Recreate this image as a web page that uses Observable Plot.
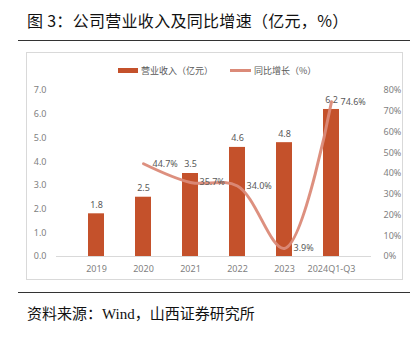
<!DOCTYPE html>
<html><head><meta charset="utf-8">
<script src="https://cdn.jsdelivr.net/npm/d3@7"></script>
<script src="https://cdn.jsdelivr.net/npm/@observablehq/plot@0.6"></script>
<style>
body{margin:0;background:#fff;width:411px;height:337px;position:relative;overflow:hidden;font-family:"Noto Sans CJK SC","Noto Sans",sans-serif;}
#title{position:absolute;left:27px;top:8px;font-size:16px;color:#111;white-space:nowrap;letter-spacing:0.3px;}
.rule{position:absolute;left:18px;width:392px;height:0;border-top:1.5px solid #333;}
#box{position:absolute;left:26px;top:52px;width:375px;height:226px;border:1px solid #d9d9d9;}
#chart{position:absolute;left:0;top:0;}
#legend{position:absolute;left:0;top:11px;width:375px;font-size:9px;color:#595959;}
.lg{position:absolute;top:0;white-space:nowrap;display:flex;align-items:center;}
#caption{position:absolute;left:27px;top:302px;font-size:15px;color:#111;white-space:nowrap;}
#caption .w{font-family:"Liberation Serif",serif;}
</style></head>
<body>
<div id="title">图 3：公司营业收入及同比增速（亿元，%）</div>
<div class="rule" style="top:40px"></div>
<div id="box"><div id="chart"></div>
<div id="legend">
<div class="lg" style="left:91px"><span style="display:inline-block;width:20px;height:5px;background:#C4512B;margin-right:3px"></span>营业收入（亿元）</div>
<div class="lg" style="left:203px"><span style="display:inline-block;width:21px;height:2.5px;background:#DB8A78;margin-right:3px"></span>同比增长（%）</div>
</div></div>
<div class="rule" style="top:292px"></div>
<div id="caption">资料来源：<span class="w">Wind</span>，山西证券研究所</div>
<script>
const categories = ["2019","2020","2021","2022","2023","2024Q1-Q3"];
const revenue = [1.8, 2.5, 3.5, 4.6, 4.8, 6.2];
const growth = [null, 44.7, 35.7, 34.0, 3.9, 74.6];
const leftTicks = [0,1,2,3,4,5,6,7];
const rightTicks = [0,10,20,30,40,50,60,70,80];

const yMax = 7, pMax = 80;
const toY = p => p * yMax / pMax;
const bars = categories.map((c,i)=>({c, v: revenue[i]}));
const line = categories.map((c,i)=>({c, g: growth[i]})).filter(d=>d.g!=null);

const plot = Plot.plot({
  width: 375, height: 226,
  marginLeft: 29, marginRight: 31, marginTop: 37, marginBottom: 23,
  style: {fontFamily: '"Noto Sans","Noto Sans CJK SC",sans-serif', fontSize: "9px", color: "#7f7f7f", background: "transparent"},
  x: {domain: categories, padding: 0.66, label: null},
  y: {domain: [0, yMax], label: null},
  marks: [
    Plot.ruleY([0], {stroke: "#d9d9d9", strokeWidth: 1}),
    Plot.barY(bars, {x: "c", y: "v", fill: "#C4512B"}),
    Plot.text(bars, {x: "c", y: "v", text: d => d.v.toFixed(1), dy: -9, fill: "#595959", fontSize: 9}),
    Plot.line(line, {x: "c", y: d => toY(d.g), stroke: "#DB8A78", strokeWidth: 3, curve: "catmull-rom", strokeOpacity: 0.95}),
    Plot.text(line, {x: "c", y: d => toY(d.g), text: d => d.g.toFixed(1) + "%", dx: 9, textAnchor: "start", fill: "#595959", fontSize: 9}),
    Plot.axisY(leftTicks, {anchor: "left", tickSize: 0, tickPadding: 10, tickFormat: d => d.toFixed(1), label: null, fill: "#7f7f7f"}),
    Plot.axisY(rightTicks.map(toY), {anchor: "right", tickSize: 0, tickPadding: 12, tickFormat: d => Math.round(d * pMax / yMax) + "%", label: null, fill: "#7f7f7f"}),
    Plot.axisX({tickSize: 0, tickPadding: 9, label: null, fill: "#7f7f7f"})
  ]
});
document.getElementById("chart").appendChild(plot);
</script>
</body></html>
